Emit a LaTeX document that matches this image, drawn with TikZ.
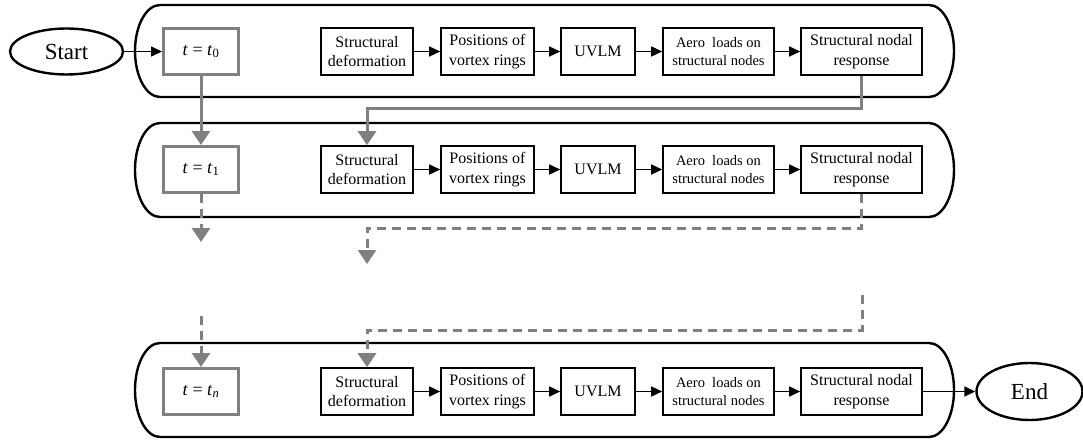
\documentclass[tikz,border=0pt]{standalone}
\usepackage{fontspec}
\setmainfont{Liberation Serif}
\usetikzlibrary{arrows.meta,shapes.geometric}
\definecolor{flowgray}{HTML}{808080}
\tikzset{
  band/.style={draw=black, line width=2.4pt},
  procbox/.style={draw=black, line width=1.6pt, align=center, inner sep=1pt,
    minimum height=47pt, font=\fontsize{16}{19.5}\selectfont},
  smallbox/.style={procbox, font=\fontsize{14.5}{18}\selectfont},
  timebox/.style={draw=flowgray, line width=3pt, minimum width=75pt, minimum height=46pt,
    font=\fontsize{18}{20}\selectfont},
  term/.style={draw=black, ellipse, line width=2.4pt, inner sep=0pt,
    font=\fontsize{23}{25}\selectfont},
  blackarrow/.style={draw=black, line width=1.5pt, -{Triangle[length=11pt,width=10pt]}},
  grayarrow/.style={draw=flowgray, line width=3pt, -{Triangle[length=14pt,width=18pt]}},
  graydash/.style={grayarrow, dash pattern=on 9pt off 6pt},
}
\newcommand{\tsym}[1]{\textit{t} = \textit{t}\textsubscript{#1}}
\begin{document}
\begin{tikzpicture}[x=1pt,y=-1pt]
\useasboundingbox (0,0) rectangle (1083,441);
% bands
\foreach \T/\B in {5/97,123/217,343/437}{
  \pgfmathsetmacro{\ry}{(\B-\T)/2}
  \draw[band] (160,\T) -- (929,\T)
    arc[start angle=-90, end angle=90, x radius=25, y radius=\ry]
    -- (160,\B)
    arc[start angle=90, end angle=270, x radius=25, y radius=\ry] -- cycle;
}
% terminals
\node[term, minimum width=113pt, minimum height=46pt] (start) at (66.5,51.5) {Start};
\node[term, minimum width=106pt, minimum height=57pt] (end) at (1029.5,391.5) {End};
% rows
\foreach \r/\y/\s in {1/51.5/0,2/169.5/1,3/391.5/{\textit{n}}}{
  \node[timebox] (t\r) at (201,\y) {\tsym{\s}};
  \node[procbox, minimum width=92pt] (sd\r) at (367,\y) {Structural\\deformation};
  \node[procbox, minimum width=93pt] (pv\r) at (487.5,\y) {Positions of\\vortex rings};
  \node[procbox, minimum width=74pt] (uv\r) at (598,\y) {UVLM};
  \node[smallbox, minimum width=111pt] (ae\r) at (718.5,\y) {Aero\ \ loads on\\structural nodes};
  \node[procbox, minimum width=121pt] (sn\r) at (861.5,\y) {Structural nodal\\response};
  \draw[blackarrow] (sd\r) -- (pv\r);
  \draw[blackarrow] (pv\r) -- (uv\r);
  \draw[blackarrow] (uv\r) -- (ae\r);
  \draw[blackarrow] (ae\r) -- (sn\r);
}
\draw[blackarrow] (start) -- (t1);
\draw[blackarrow] (sn3) -- (end);
% gray connectors
\coordinate (h1) at (0,109);
\coordinate (h2) at (0,228);
\coordinate (h3) at (0,330);
\coordinate (d1) at (201,242);
\coordinate (d2) at (367,264);
\coordinate (u1) at (201,316);
\coordinate (u2) at (862,295);
\draw[grayarrow] (t1) -- (t2);
\draw[grayarrow] (sn1.south) |- (sd2.north |- h1) -- (sd2.north);
\draw[graydash] (t2.south) -- (d1);
\draw[graydash] (sn2.south) |- (d2 |- h2) -- (d2);
\draw[graydash] (u1) -- (t3.north);
\draw[graydash] (u2) |- (sd3.north |- h3) -- (sd3.north);
\end{tikzpicture}
\end{document}
